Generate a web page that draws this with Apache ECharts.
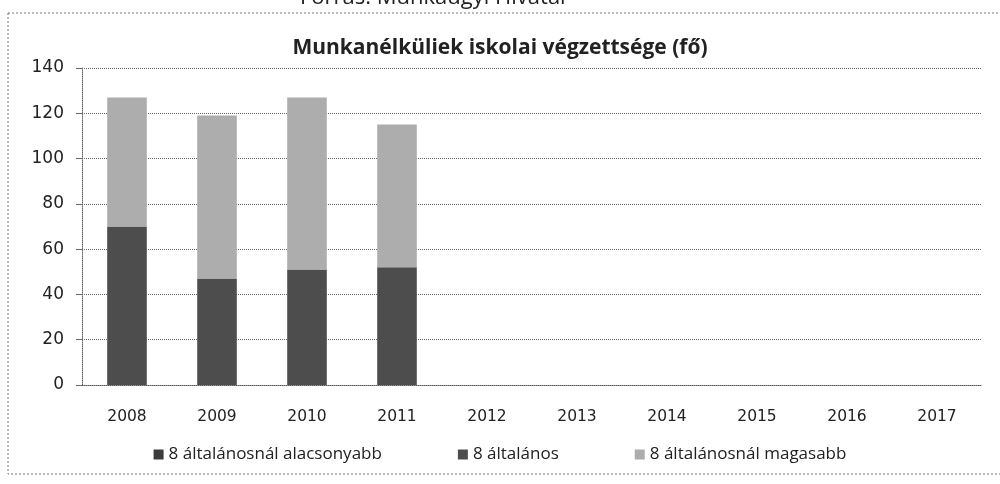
<!DOCTYPE html>
<html>
<head>
<meta charset="utf-8">
<script src="https://cdn.jsdelivr.net/npm/echarts@6/dist/echarts.min.js"></script>
<style>
  html, body { margin: 0; padding: 0; background: #fff; }
  #chart { width: 1000px; height: 484px; }
</style>
</head>
<body>
<div id="chart"></div>
<script>
// évek
const years = ['2008', '2009', '2010', '2011', '2012', '2013', '2014', '2015', '2016', '2017'];
// végzettség szerinti létszám (fő)
const alacsonyabb = [0, 0, 0, 0, null, null, null, null, null, null];
const altalanos = [70, 47, 51, 52, null, null, null, null, null, null];
const magasabb = [57, 72, 76, 63, null, null, null, null, null, null];
const seriesNames = ['8 általánosnál alacsonyabb', '8 általános', '8 általánosnál magasabb'];

const chart = echarts.init(document.getElementById('chart'));

const labelFont = 'DejaVu Sans';

const option = {
  backgroundColor: '#fff',
  animation: false,
  title: {
    text: 'Munkanélküliek iskolai végzettsége (fő)',
    left: 'center',
    top: 33,
    textStyle: { fontFamily: 'Open Sans', fontSize: 21, fontWeight: 'bold', color: '#222' }
  },
  graphic: [
    {
      type: 'rect',
      shape: { x: 8, y: 13, width: 1000, height: 461 },
      style: { fill: 'none', stroke: '#777', lineWidth: 1, lineDash: [2, 2] },
      silent: true
    },
    {
      type: 'text',
      left: 300,
      top: -13,
      style: { text: 'Forrás: Munkaügyi Hivatal', font: '22px "Open Sans"', fill: '#222' },
      silent: true
    }
  ],
  legend: {
    data: seriesNames,
    bottom: 16,
    left: 'center',
    itemWidth: 10,
    itemHeight: 10,
    itemGap: 76,
    icon: 'rect',
    textStyle: { fontFamily: 'Open Sans', fontSize: 17, color: '#222' }
  },
  grid: { left: 82, right: 18, top: 68, bottom: 99, containLabel: false },
  xAxis: {
    type: 'category',
    data: years,
    axisLine: { lineStyle: { color: '#555', type: 'dotted' } },
    axisTick: { show: false },
    axisLabel: { fontFamily: labelFont, fontSize: 15.5, color: '#222', margin: 24 }
  },
  yAxis: {
    type: 'value',
    min: 0,
    max: 140,
    interval: 20,
    axisLine: { show: true, lineStyle: { color: '#666', type: 'dotted' } },
    axisTick: { show: true, length: 6, inside: false, lineStyle: { color: '#666' } },
    axisLabel: { fontFamily: labelFont, fontSize: 17, color: '#222', margin: 18 },
    splitLine: { lineStyle: { color: '#666', type: 'dotted', width: 1 } }
  },
  series: [
    {
      name: seriesNames[0],
      type: 'bar',
      stack: 'fo',
      data: alacsonyabb,
      barWidth: '44%',
      itemStyle: { color: '#3c3c3c' }
    },
    {
      name: seriesNames[1],
      type: 'bar',
      stack: 'fo',
      data: altalanos,
      barWidth: '44%',
      itemStyle: { color: '#4d4d4d' }
    },
    {
      name: seriesNames[2],
      type: 'bar',
      stack: 'fo',
      data: magasabb,
      barWidth: '44%',
      itemStyle: { color: '#adadad' }
    }
  ]
};

chart.setOption(option);
</script>
</body>
</html>
